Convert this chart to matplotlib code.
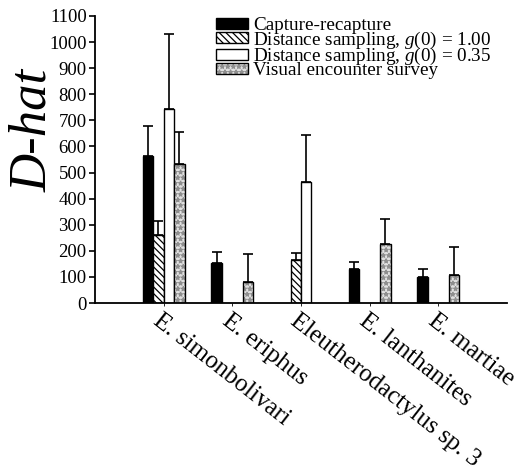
import numpy as np
import matplotlib
matplotlib.use("Agg")
import matplotlib.pyplot as plt
from matplotlib.legend_handler import HandlerTuple
from matplotlib.transforms import offset_copy

plt.rcParams['font.family'] = ['Liberation Serif', 'DejaVu Serif']
plt.rcParams['mathtext.fontset'] = 'custom'
plt.rcParams['mathtext.it'] = 'Liberation Serif:italic'
plt.rcParams['mathtext.rm'] = 'Liberation Serif'
plt.rcParams['hatch.linewidth'] = 0.9

species = ["E. simonbolivari", "E. eriphus", "Eleutherodactylus sp. 3",
           "E. lanthanites", "E. martiae"]
series_labels = ["Capture-recapture",
                 "Distance sampling, $g(0)$ = 1.00",
                 "Distance sampling, $g(0)$ = 0.35",
                 "Visual encounter survey"]
nan = np.nan
capture = [564, 153, nan, 131, 100]
capture_err = [115, 44, nan, 27, 30]
dist100 = [260, nan, 165, nan, nan]
dist100_err = [53, nan, 27, nan, nan]
dist035 = [743, nan, 463, nan, nan]
dist035_err = [287, nan, 180, nan, nan]
visual = [532, 82, nan, 225, 108]
visual_err = [125, 106, nan, 97, 105]
yticks = list(range(0, 1101, 100))

fig = plt.figure(figsize=(5.21, 4.76), dpi=100)
ax = fig.add_axes([95/521, 1-303/476, 412/521, 287/476])

x = np.arange(len(species))
w = 0.152
offs = [-1.5, -0.5, 0.5, 1.5]

def draw(vals, errs, k, **kw):
    v = np.array(vals, float); e = np.array(errs, float)
    m = ~np.isnan(v)
    xs = x[m] + offs[k]*w
    bars = ax.bar(xs, v[m], width=w, zorder=2, **kw)
    ax.errorbar(xs, v[m], yerr=[np.zeros(m.sum()), e[m]], fmt='none',
                ecolor='black', elinewidth=1.2, capsize=3.6, capthick=1.2, zorder=1)
    return bars

b1 = draw(capture, capture_err, 0, color='black', edgecolor='black', linewidth=1)
b2 = draw(dist100, dist100_err, 1, facecolor='white', edgecolor='black',
          hatch='\\\\\\\\\\', linewidth=1)
b3 = draw(dist035, dist035_err, 2, facecolor='white', edgecolor='black', linewidth=1)
b4a = draw(visual, visual_err, 3, facecolor='#e0e0e0', edgecolor='#8f8f8f',
           hatch='***', linewidth=0)
v = np.array(visual, float); m = ~np.isnan(v)
b4b = ax.bar(x[m] + offs[3]*w, v[m], width=w, fill=False, edgecolor='black',
             linewidth=1, zorder=3)

ax.set_xlim(-1, 5)
ax.set_ylim(0, 1100)
ax.set_yticks(yticks)
ax.set_yticklabels([str(t) for t in yticks], fontsize=13.5)
ax.set_xticks(x)
ax.set_xticklabels([])
ax.tick_params(axis='y', direction='out', length=4, width=1.2, pad=2)
ax.tick_params(axis='x', direction='out', length=2, width=0.6)
for s in ['top', 'right']:
    ax.spines[s].set_visible(False)
for s in ['left', 'bottom']:
    ax.spines[s].set_linewidth(1.3)

trans = offset_copy(ax.get_xaxis_transform(), fig=fig, x=-1, y=-7, units='dots')
for xi, name in zip(x, species):
    ax.text(xi, 0, name, transform=trans, rotation=-38, rotation_mode='anchor',
            ha='left', va='top', fontsize=18)

ax.set_ylabel('D-hat', fontsize=38, fontstyle='italic')
ax.yaxis.set_label_coords(-0.092, 0.6)

leg = ax.legend([b1[0], b2[0], b3[0], (b4a[0], b4b[0])], series_labels,
                handler_map={tuple: HandlerTuple(ndivide=1, pad=0)},
                loc='upper left', bbox_to_anchor=(216/521, 1-17/476),
                bbox_transform=fig.transFigure, frameon=False, fontsize=13.8,
                handlelength=1.65, handleheight=0.5, handletextpad=0.3,
                labelspacing=-0.24, borderpad=0, borderaxespad=0)

fig.savefig('out.png', dpi=100)
